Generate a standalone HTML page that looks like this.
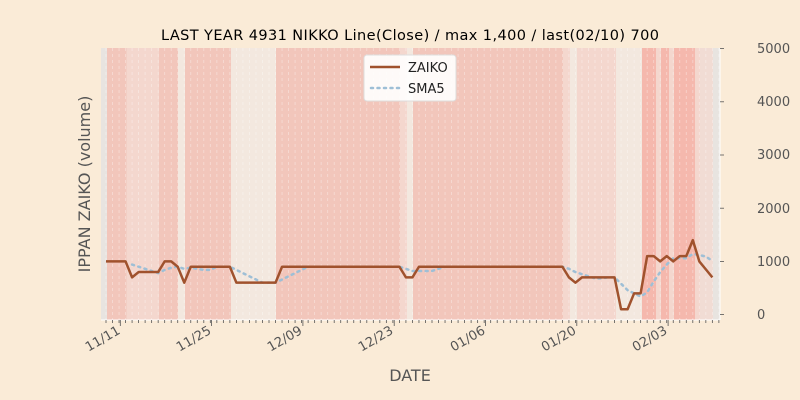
<!DOCTYPE html>
<html><head><meta charset="utf-8"><style>
html,body{margin:0;padding:0;background:#faebd7;}
svg{display:block;font-family:"DejaVu Sans","Liberation Sans",sans-serif;}
</style></head><body>
<svg id="s" width="800" height="400" viewBox="0 0 800 400" xmlns="http://www.w3.org/2000/svg">
<rect width="800" height="400" fill="#faebd7"/>
<rect x="101" y="48" width="619" height="272" fill="#e8e4e0"/>
<g id="bands"></g>
<g id="grid"></g>
<polyline id="sma" fill="none" stroke="#9ebfd6" stroke-width="2.5" stroke-dasharray="2,4.5" stroke-linecap="round"/>
<polyline id="zk" fill="none" stroke="#a0522d" stroke-width="2.5" stroke-linejoin="round"/>
<line x1="101" y1="320" x2="720" y2="320" stroke="#fff" stroke-width="1"/>
<line x1="720" y1="48" x2="720" y2="320" stroke="#fff" stroke-width="1"/>
<g id="ticks" stroke="#555" stroke-width="0.8"></g>
<g font-size="13" fill="#555">
<text x="757" y="53">5000</text>
<text x="757" y="106">4000</text>
<text x="757" y="159">3000</text>
<text x="757" y="213">2000</text>
<text x="757" y="266">1000</text>
<text x="757" y="319">0</text>
</g>
<g font-size="13" fill="#555" text-anchor="end">
<text transform="translate(121,333) rotate(-30)">11/11</text>
<text transform="translate(212,333) rotate(-30)">11/25</text>
<text transform="translate(303,333) rotate(-30)">12/09</text>
<text transform="translate(394,333) rotate(-30)">12/23</text>
<text transform="translate(486,333) rotate(-30)">01/06</text>
<text transform="translate(577,333) rotate(-30)">01/20</text>
<text transform="translate(668,333) rotate(-30)">02/03</text>
</g>
<text x="410" y="381" font-size="16" fill="#555" text-anchor="middle">DATE</text>
<text transform="translate(90,184) rotate(-90)" font-size="16" fill="#555" text-anchor="middle">IPPAN ZAIKO (volume)</text>
<text x="410" y="40" font-size="14.5" fill="#000" text-anchor="middle" textLength="498">LAST YEAR 4931 NIKKO Line(Close) / max 1,400 / last(02/10) 700</text>
<rect x="364" y="55" width="92" height="46" rx="3" fill="#fff" fill-opacity="0.9" stroke="#ddd"/>
<line x1="370" y1="67" x2="400" y2="67" stroke="#a0522d" stroke-width="2.5"/>
<line x1="371" y1="88" x2="400" y2="88" stroke="#9ebfd6" stroke-width="2.5" stroke-dasharray="2,4.5" stroke-linecap="round"/>
<text x="408" y="72" font-size="13" fill="#222">ZAIKO</text>
<text x="408" y="93" font-size="13" fill="#222">SMA5</text>
</svg>
<script>
var NS="http://www.w3.org/2000/svg";
function el(t,a,p){var e=document.createElementNS(NS,t);for(var k in a)e.setAttribute(k,a[k]);document.getElementById(p).appendChild(e);return e;}
var D="#f2c6bb",L="#f4d7ce",P="#f3e8df",S="#f5b8ad";
var bands=[[107,126.7,D],[126.7,159,L],[159,178,D],[178,185,P],[185,231,D],[231,276,P],[276,400,D],[400,407,L],[407,413,P],[413,563,D],[563,570,L],[570,577,P],[577,616,L],[616,642,P],[642,656,S],[656,661,L],[661,669,S],[669,674,L],[674,695,S],[695,700,L],[700,713,"#f1dcd4"]];
bands.forEach(function(b){el("rect",{x:b[0],y:48,width:b[1]-b[0],height:272,fill:b[2]},"bands");});
for(var i=0;i<95;i++){var x=106+6.52*i;el("line",{x1:x,y1:48,x2:x,y2:320,stroke:"#fff","stroke-opacity":0.4,"stroke-dasharray":"3,3","stroke-width":0.8},"grid");
el("line",{x1:x,y1:320,x2:x,y2:323},"ticks");}
for(var k=0;k<7;k++){var x=120.3+91.3*k;el("line",{x1:x,y1:320,x2:x,y2:326},"ticks");}
for(var k=0;k<=5;k++){var y=314.6-53.2*k;el("line",{x1:720,y1:y,x2:724,y2:y},"ticks");}
var v=[];function f(a,b,val){for(var i=a;i<=b;i++)v[i]=val;}
f(0,3,1000);f(4,4,700);f(5,8,800);f(9,10,1000);f(11,11,900);f(12,12,600);f(13,19,900);f(20,26,600);f(27,45,900);f(46,47,700);f(48,70,900);f(71,71,700);f(72,72,600);f(73,78,700);f(79,80,100);f(81,82,400);f(83,84,1100);f(85,85,1000);f(86,86,1100);f(87,87,1000);f(88,89,1100);f(90,90,1400);f(91,91,1000);f(92,92,850);f(93,93,700);
function Y(q){return 314.6-q*0.0532;}
var p=[],s=[];
for(var i=0;i<v.length;i++){var x=106+6.52*i;p.push(x+","+Y(v[i]));
if(i>=4){var m=(v[i]+v[i-1]+v[i-2]+v[i-3]+v[i-4])/5;s.push(x+","+Y(m));}}
document.getElementById("zk").setAttribute("points",p.join(" "));
document.getElementById("sma").setAttribute("points",s.join(" "));
</script>
</body></html>
